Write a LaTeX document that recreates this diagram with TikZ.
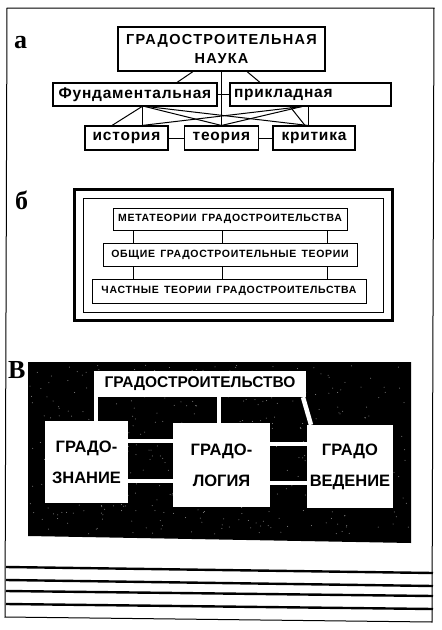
\documentclass[tikz,border=0pt]{standalone}
\usepackage{fontspec}
\setmainfont{Liberation Sans}
\newfontfamily\tagfont{Liberation Serif}
\newfontfamily\widefont{Liberation Sans Bold}[LetterSpace=9]
\newfontfamily\lowfont{Liberation Sans Bold}[LetterSpace=5]
\newfontfamily\smallfont{Liberation Sans Bold}[LetterSpace=6.5]
\newfontfamily\capfont{Liberation Sans Bold}
\usetikzlibrary{calc}

\begin{document}
\begin{tikzpicture}[
    x=1pt, y=-1pt,
    abox/.style={draw, line width=1.1pt, inner sep=0pt, minimum height=23pt,
      font=\lowfont\fontsize{15.5}{18}\selectfont},
    bbox/.style={draw, line width=1pt, inner sep=0pt, minimum height=23pt,
      font=\smallfont\fontsize{10.5}{12}\selectfont},
    vbox/.style={fill=white, inner sep=0pt, align=center,
      font=\capfont\fontsize{16.5}{31}\selectfont},
    link/.style={line width=1pt},
    wlink/.style={white, line width=4.5pt},
    tag/.style={anchor=base west, inner sep=0pt, font=\tagfont\bfseries\fontsize{26}{28}\selectfont}
  ]
  \useasboundingbox (0,0) rectangle (442,630);
  \fill[white] (0,0) rectangle (442,630);
  \draw[line width=1pt] (7,8) -- (434,8) -- (432,622) -- (5,617) -- cycle;
  \foreach \yl/\yr in {567/573, 580/586, 591/596, 604/609}
    \draw[line width=2.4pt] (6,\yl) -- (433,\yr);

  % a
  \node[tag] (taga) at (14,48) {а};
  \node[abox, minimum width=207pt, minimum height=44pt, align=center,
    font=\widefont\fontsize{14.5}{19}\selectfont] (nauka) at (221.5,49) {ГРАДОСТРОИТЕЛЬНАЯ\\НАУКА};
  \node[abox, minimum width=164pt] (fund) at (135,94.5) {Фундаментальная};
  \node[abox, text width=153pt, inner xsep=4pt, align=left] (prikl) at (310.5,94.5) {прикладная};
  \node[abox, minimum width=83pt, minimum height=24pt] (ist) at (126.5,138) {история};
  \node[abox, minimum width=74pt, minimum height=24pt] (teor) at (221.5,138) {теория};
  \node[abox, minimum width=82pt, minimum height=24pt] (krit) at (314,138) {критика};
  \draw[link] (nauka.south) -- (teor.north);
  \draw[link] ([xshift=-28.5pt]nauka.south) -- ([xshift=42pt]fund.north);
  \draw[link] ([xshift=25.5pt]nauka.south) -- ([xshift=-50.5pt]prikl.north);
  \draw[link] (fund.east) -- (prikl.west);
  \draw[link] (ist) -- (teor);
  \draw[link] (teor) -- (krit);
  \draw[link] ([xshift=7pt]fund.south) -- ([xshift=-14.5pt]ist.north);
  \draw[link] ([xshift=7pt]fund.south) -- ([xshift=15.5pt]ist.north);
  \draw[link] ([xshift=10pt]fund.south) -- (teor.north);
  \draw[link] ([xshift=12pt]fund.south) -- ([xshift=-6pt]krit.north);
  \draw[link] ([xshift=-8.5pt]prikl.south) -- ([xshift=15.5pt]ist.north);
  \draw[link] ([xshift=-8.5pt]prikl.south) -- (teor.north);
  \draw[link] ([xshift=-20.5pt]prikl.south) -- ([xshift=-9pt]krit.north);
  \draw[link] ([xshift=-2.5pt]prikl.south) -- ([xshift=-6pt]krit.north);

  % b
  \node[tag] (tagb) at (15,209) {б};
  \draw[line width=3pt] (74,189) rectangle (392,320);
  \draw[line width=1pt] (83,198) rectangle (383,312);
  \node[bbox, minimum width=234pt, minimum height=22pt] (meta) at (230,219) {МЕТАТЕОРИИ\enspace ГРАДОСТРОИТЕЛЬСТВА};
  \node[bbox, minimum width=254pt] (obsh) at (230,254.5) {ОБЩИЕ\enspace ГРАДОСТРОИТЕЛЬНЫЕ\enspace ТЕОРИИ};
  \node[bbox, minimum width=274pt, minimum height=24pt] (chast) at (229,291) {ЧАСТНЫЕ\enspace ТЕОРИИ\enspace ГРАДОСТРОИТЕЛЬСТВА};
  \foreach \dx in {-97,-8,97} {
    \draw[link] ([xshift=\dx pt]meta.south) -- ([xshift=\dx pt]meta.south |- obsh.north);
    \draw[link] ([xshift=\dx pt]obsh.south) -- ([xshift=\dx pt]obsh.south |- chast.north);
  }

  % v
  \node[tag] (tagv) at (8,378) {В};
  \fill[black] (28,362) -- (411,362) -- (411,543) -- (28,536) -- cycle;
  \pgfmathsetseed{7}
  \foreach \i in {1,...,450} {
    \pgfmathsetmacro\sx{30+379*rnd}
    \pgfmathsetmacro\sy{364+170*rnd}
    \fill[black!45] (\sx,\sy) circle (0.5);
  }
  \node[vbox, minimum width=212pt, minimum height=26pt, font=\capfont\fontsize{15.5}{18}\selectfont] (grad) at (200,384) {ГРАДОСТРОИТЕЛЬСТВО};
  \node[vbox, minimum width=83pt, minimum height=82pt] (znan) at (86.5,462) {ГРАДО-\\ЗНАНИЕ};
  \node[vbox, minimum width=97pt, minimum height=84pt] (logi) at (221.5,465) {ГРАДО-\\ЛОГИЯ};
  \node[vbox, minimum width=86pt, minimum height=83pt] (vede) at (350,466.5) {ГРАДО\\ВЕДЕНИЕ};
  \draw[wlink] ([xshift=-104pt]grad.south) -- ([xshift=-104pt]grad.south |- znan.north);
  \draw[wlink] ([xshift=19pt]grad.south) -- ([xshift=19pt]grad.south |- logi.north);
  \draw[wlink] ([xshift=103pt]grad.south) -- ([xshift=-39pt]vede.north);
  \draw[wlink] ([yshift=21pt]znan.east) -- ([yshift=21pt]znan.east -| logi.west);
  \draw[wlink] ([yshift=-19pt]znan.east) -- ([yshift=-19pt]znan.east -| logi.west);
  \draw[wlink] ([yshift=21pt]logi.east) -- ([yshift=21pt]logi.east -| vede.west);
  \draw[wlink] ([yshift=-18pt]logi.east) -- ([yshift=-18pt]logi.east -| vede.west);
\end{tikzpicture}
\end{document}
